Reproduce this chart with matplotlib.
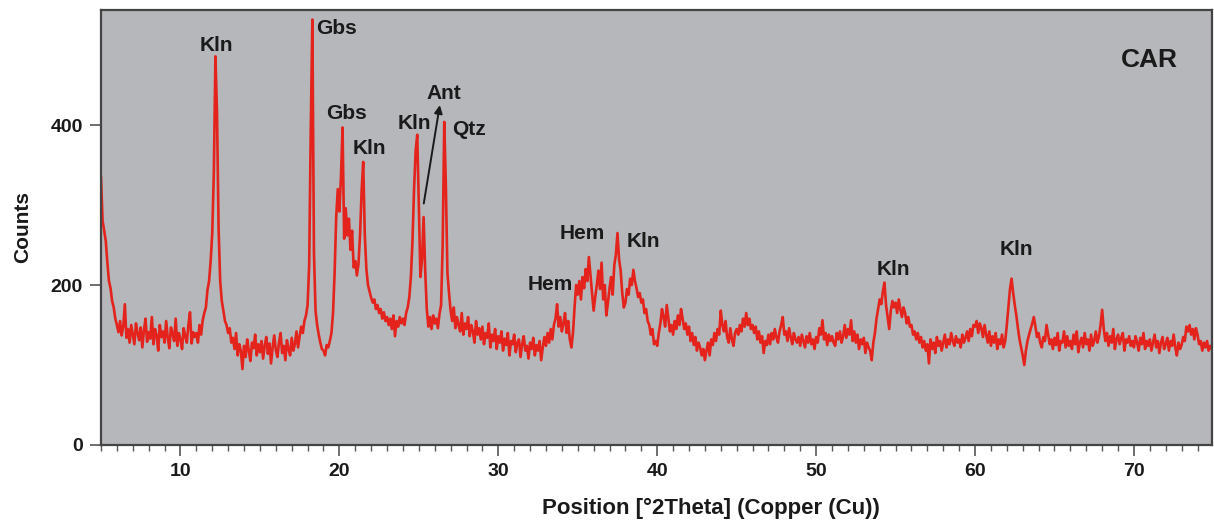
import numpy as np
import matplotlib.pyplot as plt
from matplotlib.ticker import MultipleLocator


# scan grid, degrees 2theta
theta_start = 5.0
theta_stop = 75.0
theta_step = 0.1

# counts, one row per degree (5.0 .. 74.9), then 75.0
counts = [
    335, 280, 268, 255, 228, 205, 196, 180, 172, 158,   # 5
    150, 141, 155, 137, 148, 176, 134, 145, 128, 150,   # 6
    138, 126, 152, 140, 131, 147, 122, 143, 158, 129,   # 7
    141, 133, 160, 126, 145, 137, 118, 150, 135, 142,   # 8
    128, 155, 134, 121, 147, 139, 130, 158, 124, 140,   # 9
    132, 120, 146, 136, 128, 150, 166, 127, 141, 135,   # 10
    140, 128, 150, 138, 156, 165, 172, 194, 205, 230,   # 11
    265, 340, 486, 415, 270, 205, 180, 168, 155, 150,   # 12
    140, 146, 128, 134, 120, 140, 112, 126, 118, 95,    # 13
    124, 110, 132, 118, 105, 128, 121, 138, 112, 126,   # 14
    116, 130, 108, 124, 135, 114, 127, 102, 122, 137,   # 15
    119, 110, 128, 140, 115, 124, 106, 131, 120, 112,   # 16
    134, 118, 126, 142, 122, 136, 148, 140, 155, 162,   # 17
    175, 225, 395, 532, 240, 168, 150, 138, 128, 120,   # 18
    118, 112, 125, 122, 130, 140, 165, 215, 285, 320,   # 19
    292, 335, 397, 258, 296, 262, 283, 244, 268, 222,   # 20
    230, 212, 226, 262, 318, 354, 262, 220, 200, 192,   # 21
    184, 178, 182, 170, 175, 165, 170, 158, 166, 155,   # 22
    160, 150, 158, 145, 162, 136, 155, 148, 160, 152,   # 23
    158, 150, 165, 172, 185, 210, 255, 320, 368, 388,   # 24
    300, 210, 232, 285, 218, 170, 148, 160, 145, 162,   # 25
    152, 158, 146, 164, 175, 250, 404, 325, 215, 190,   # 26
    168, 155, 172, 146, 160, 150, 142, 165, 138, 152,   # 27
    145, 160, 136, 150, 142, 128, 155, 138, 146, 132,   # 28
    148, 126, 140, 134, 152, 122, 138, 130, 145, 120,   # 29
    136, 128, 142, 118, 133, 125, 140, 112, 130, 126,   # 30
    138, 116, 128, 132, 110, 126, 136, 118, 124, 108,   # 31
    128, 120, 134, 112, 125, 118, 130, 106, 122, 135,   # 32
    124, 140, 128, 145, 132, 150, 158, 176, 148, 160,   # 33
    142, 152, 165, 140, 155, 132, 122, 140, 172, 200,   # 34
    188, 205, 182, 210, 196, 220, 205, 235, 212, 190,   # 35
    168, 185, 200, 218, 195, 228, 182, 200, 162, 178,   # 36
    196, 210, 188, 225, 238, 265, 232, 218, 190, 172,   # 37
    178, 195, 188, 208, 200, 219, 205, 196, 185, 190,   # 38
    178, 182, 165, 170, 155, 150, 138, 145, 126, 130,   # 39
    124, 140, 152, 170, 160, 148, 175, 158, 142, 150,   # 40
    138, 155, 145, 162, 150, 170, 158, 145, 152, 138,   # 41
    148, 130, 140, 125, 135, 118, 128, 122, 112, 120,   # 42
    106, 118, 128, 112, 132, 125, 140, 130, 145, 138,   # 43
    168, 150, 142, 155, 135, 128, 146, 132, 124, 140,   # 44
    145, 138, 150, 142, 158, 148, 165, 150, 158, 145,   # 45
    150, 140, 148, 132, 142, 128, 136, 115, 130, 125,   # 46
    138, 126, 140, 132, 145, 135, 128, 142, 150, 160,   # 47
    138, 142, 130, 146, 135, 126, 140, 132, 128, 135,   # 48
    124, 138, 130, 122, 136, 128, 140, 126, 132, 120,   # 49
    135, 128, 146, 138, 156, 132, 140, 125, 138, 130,   # 50
    136, 128, 124, 140, 132, 142, 128, 136, 150, 134,   # 51
    145, 138, 156, 130, 142, 128, 138, 120, 132, 126,   # 52
    134, 115, 128, 122, 118, 106, 128, 140, 158, 170,   # 53
    182, 176, 192, 203, 175, 160, 145, 168, 180, 172,   # 54
    178, 165, 182, 170, 160, 172, 165, 152, 160, 148,   # 55
    150, 138, 142, 132, 140, 128, 135, 122, 130, 118,   # 56
    126, 102, 132, 120, 128, 115, 135, 124, 130, 118,   # 57
    128, 138, 122, 132, 126, 140, 130, 124, 136, 128,   # 58
    132, 122, 138, 128, 134, 142, 130, 145, 136, 150,   # 59
    148, 155, 140, 152, 146, 135, 150, 138, 128, 142,   # 60
    124, 136, 128, 140, 120, 132, 126, 138, 122, 130,   # 61
    150, 172, 195, 208, 190, 175, 162, 146, 132, 122,   # 62
    112, 100, 118, 130, 138, 145, 152, 160, 148, 135,   # 63
    140, 128, 122, 135, 130, 150, 138, 126, 132, 120,   # 64
    134, 125, 140, 118, 130, 128, 142, 122, 136, 124,   # 65
    130, 120, 138, 126, 142, 116, 128, 134, 122, 140,   # 66
    126, 132, 118, 138, 124, 130, 142, 128, 136, 150,   # 67
    169, 145, 130, 140, 124, 136, 128, 145, 120, 132,   # 68
    138, 126, 134, 140, 118, 132, 128, 136, 124, 130,   # 69
    122, 136, 128, 118, 134, 126, 140, 120, 130, 124,   # 70
    132, 118, 128, 138, 122, 130, 115, 128, 135, 120,   # 71
    126, 134, 118, 130, 124, 138, 122, 112, 128, 120,   # 72
    125, 135, 130, 148, 142, 150, 138, 145, 132, 146,   # 73
    138, 126, 130, 118, 128, 122, 130, 118, 124, 120,   # 74
    128,                                                # 75
]

# phase labels: text, 2theta, counts (centre of text)
phase_names = ["Kln", "Gbs", "Gbs", "Kln", "Kln", "Ant", "Qtz",
               "Hem", "Hem", "Kln", "Kln", "Kln"]
phase_theta = [12.23, 19.84, 20.47, 21.86, 24.75, 26.57, 28.14,
               33.3, 35.3, 39.15, 54.87, 62.6]
phase_counts = [500, 521, 415, 371, 402, 439, 394,
                201, 264, 255, 220, 244]

# arrow pointing from the anatase shoulder up to its label
ant_tail = (25.31, 302)
ant_head = (26.32, 425)

sample_name = "CAR"

theta = np.round(np.arange(theta_start, theta_stop + theta_step / 2, theta_step), 1)
assert len(theta) == len(counts)

plt.rcParams["font.family"] = ["Liberation Sans", "DejaVu Sans"]
plt.rcParams["font.weight"] = "bold"

fig = plt.figure(figsize=(12.14, 5.24), dpi=100)
ax = fig.add_axes([0.0832, 0.1508, 0.915, 0.8302])
ax.set_facecolor("#b5b7bb")

ax.plot(theta, counts, color="#e3231c", linewidth=1.9)

for name, t, c in zip(phase_names, phase_theta, phase_counts):
    ax.text(t, c, name, ha="center", va="center",
            fontsize=15, fontweight="bold", color="#1a1a1a")

ax.annotate("", xy=ant_head, xytext=ant_tail,
            arrowprops=dict(arrowstyle="-|>", color="#1a1a1a",
                            lw=1.4, mutation_scale=12,
                            shrinkA=0, shrinkB=0))

ax.text(70.97, 482, sample_name, ha="center", va="center",
        fontsize=19, fontweight="bold", color="#1a1a1a")

ax.set_xlim(5, 74.9)
ax.set_ylim(0, 544)

ax.xaxis.set_major_locator(MultipleLocator(10))
ax.xaxis.set_minor_locator(MultipleLocator(1))
ax.set_yticks([0, 200, 400])

ax.tick_params(axis="both", which="major", direction="out",
               length=8, width=1.2, color="#555555",
               labelsize=14, labelcolor="#1a1a1a", pad=5)
ax.tick_params(axis="x", which="minor", direction="out",
               length=4, width=1.0, color="#555555")

for lab in ax.get_xticklabels() + ax.get_yticklabels():
    lab.set_fontweight("bold")

for side in ["left", "right", "top", "bottom"]:
    ax.spines[side].set_color("#444444")
    ax.spines[side].set_linewidth(1.6)

ax.set_xlabel("Position [°2Theta] (Copper (Cu))",
              fontsize=16, fontweight="bold", color="#1a1a1a")
ax.xaxis.set_label_coords(0.549, -0.122)
ax.set_ylabel("Counts", fontsize=15, fontweight="bold",
              color="#1a1a1a", labelpad=13)

fig.savefig("out.png", dpi=100)
